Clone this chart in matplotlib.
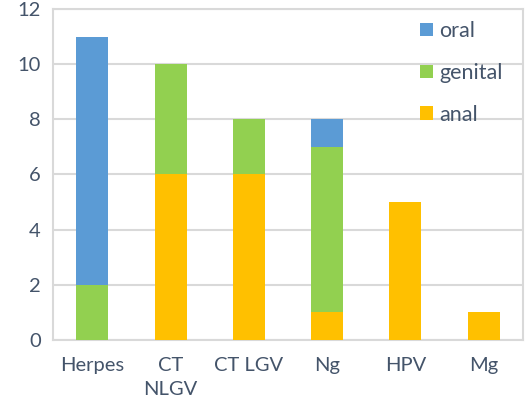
import numpy as np
import matplotlib.pyplot as plt

categories = ['Herpes', 'CT\nNLGV', 'CT LGV', 'Ng', 'HPV', 'Mg']
anal = [0, 6, 6, 1, 5, 1]
genital = [2, 4, 2, 6, 0, 0]
oral = [9, 0, 0, 1, 0, 0]

plt.rcParams['font.family'] = ['Lato', 'DejaVu Sans']
txt = '#44546A'

fig = plt.figure(figsize=(5.26, 4.12), dpi=100)
ax = fig.add_axes([0.101, 0.175, 0.893, 0.803])

x = np.arange(len(categories))
w = 0.41
b1 = ax.bar(x, anal, w, color='#FFC000', label='anal', zorder=3)
b2 = ax.bar(x, genital, w, bottom=anal, color='#92D050', label='genital', zorder=3)
bot = np.array(anal) + np.array(genital)
b3 = ax.bar(x, oral, w, bottom=bot, color='#5B9BD5', label='oral', zorder=3)

ax.set_ylim(0, 12)
ax.set_yticks(range(0, 13, 2))
ax.set_xlim(-0.5, len(categories) - 0.5)
ax.set_xticks(x)
ax.set_xticklabels(categories, linespacing=1.55)
ax.yaxis.grid(True, color='#D9D9D9', linewidth=1.5, zorder=0)
for s in ax.spines.values():
    s.set_color('#D9D9D9')
    s.set_linewidth(1.5)
ax.tick_params(axis='y', length=0, labelsize=14.5, colors=txt, pad=9)
ax.tick_params(axis='x', length=0, labelsize=14.5, colors=txt, pad=12)

leg = ax.legend(handles=[b3, b2, b1], loc='upper right', bbox_to_anchor=(0.975, 0.99),
                frameon=False, fontsize=15.5, handlelength=0.6, handleheight=0.6,
                handletextpad=0.3, labelspacing=1.02, borderaxespad=0)
for t in leg.get_texts():
    t.set_color(txt)

fig.savefig('out.png', dpi=100)
